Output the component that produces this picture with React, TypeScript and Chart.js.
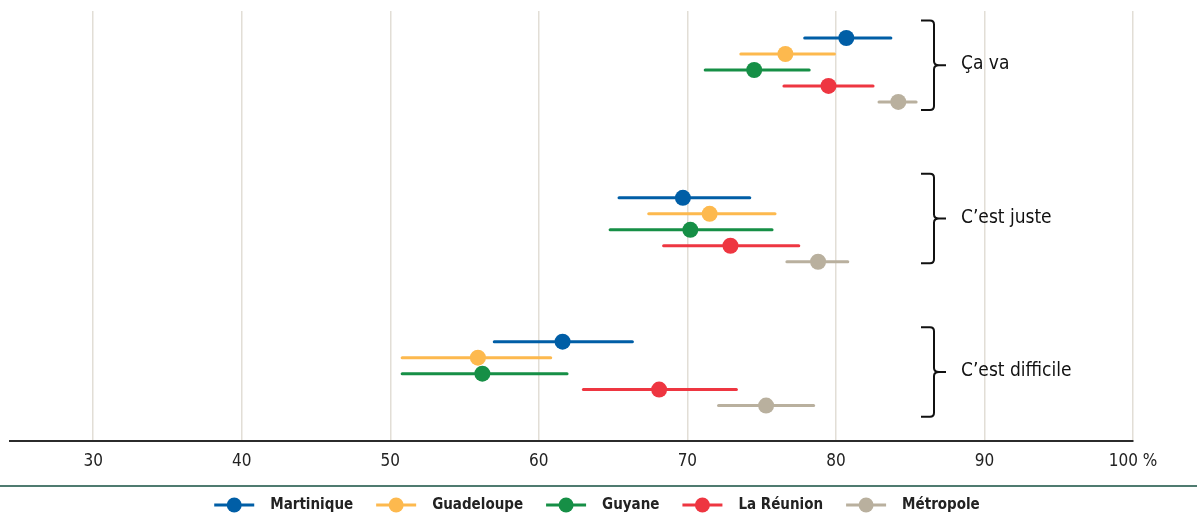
import React, { useEffect, useRef } from 'react';
import { Chart, registerables } from 'chart.js';

Chart.register(...registerables);

// ---------- data ----------
const seriesNames = ['Martinique', 'Guadeloupe', 'Guyane', 'La Réunion', 'Métropole'];
const seriesColors = ['#005ea6', '#fdb94e', '#168f46', '#ee3641', '#b9b09e'];
const groupLabels = ['Ça va', 'C’est juste', 'C’est difficile'];
const xTicks = [30, 40, 50, 60, 70, 80, 90, 100];

// estimates per group (Ça va, C’est juste, C’est difficile)
const martiniqueEst = [80.7, 69.7, 61.6];
const martiniqueLow = [77.9, 65.4, 57.0];
const martiniqueHigh = [83.7, 74.2, 66.3];

const guadeloupeEst = [76.6, 71.5, 55.9];
const guadeloupeLow = [73.6, 67.4, 50.8];
const guadeloupeHigh = [79.9, 75.9, 60.8];

const guyaneEst = [74.5, 70.2, 56.2];
const guyaneLow = [71.2, 64.8, 50.8];
const guyaneHigh = [78.2, 75.7, 61.9];

const reunionEst = [79.5, 72.9, 68.1];
const reunionLow = [76.5, 68.4, 63.0];
const reunionHigh = [82.5, 77.5, 73.3];

const metropoleEst = [84.2, 78.8, 75.3];
const metropoleLow = [82.9, 76.7, 72.1];
const metropoleHigh = [85.4, 80.8, 78.5];

const estimates = [martiniqueEst, guadeloupeEst, guyaneEst, reunionEst, metropoleEst];
const lows = [martiniqueLow, guadeloupeLow, guyaneLow, reunionLow, metropoleLow];
const highs = [martiniqueHigh, guadeloupeHigh, guyaneHigh, reunionHigh, metropoleHigh];

// ---------- layout ----------
const groupRowStart = [0, 10, 19];
const bracketCenterRow = [1.7, 11.3, 20.9];
const bracketHalfRows = 2.8;
const FONT = '"Liberation Sans Narrow", "DejaVu Sans Condensed", "Arial Narrow", sans-serif';

const errorBarPlugin = {
  id: 'errorBars',
  beforeDatasetsDraw(chart: any) {
    const { ctx, scales } = chart;
    const xs = scales.x;
    const ys = scales.y;
    ctx.save();
    ctx.lineCap = 'round';
    ctx.lineWidth = 3;
    estimates.forEach((_, s) => {
      ctx.strokeStyle = seriesColors[s];
      groupLabels.forEach((__, g) => {
        const y = ys.getPixelForValue(groupRowStart[g] + s);
        ctx.beginPath();
        ctx.moveTo(xs.getPixelForValue(lows[s][g]), y);
        ctx.lineTo(xs.getPixelForValue(highs[s][g]), y);
        ctx.stroke();
      });
    });
    ctx.restore();
  },
};

const decorPlugin = {
  id: 'decor',
  afterDraw(chart: any) {
    const { ctx, scales, width } = chart;
    const ys = scales.y;
    ctx.save();
    // brackets + group labels
    const bx = 934;
    ctx.strokeStyle = '#111';
    ctx.lineWidth = 2;
    ctx.fillStyle = '#111';
    ctx.font = `19px ${FONT}`;
    ctx.textBaseline = 'middle';
    ctx.textAlign = 'left';
    groupLabels.forEach((label, g) => {
      const mid = ys.getPixelForValue(bracketCenterRow[g]);
      const top = ys.getPixelForValue(bracketCenterRow[g] - bracketHalfRows);
      const bot = ys.getPixelForValue(bracketCenterRow[g] + bracketHalfRows);
      const r = 4;
      ctx.beginPath();
      ctx.moveTo(bx - 13, top);
      ctx.lineTo(bx - r, top);
      ctx.quadraticCurveTo(bx, top, bx, top + r);
      ctx.lineTo(bx, mid - r);
      ctx.quadraticCurveTo(bx, mid, bx + r + 1, mid);
      ctx.lineTo(bx + 12, mid);
      ctx.moveTo(bx + r + 1, mid);
      ctx.quadraticCurveTo(bx, mid, bx, mid + r);
      ctx.lineTo(bx, bot - r);
      ctx.quadraticCurveTo(bx, bot, bx - r, bot);
      ctx.lineTo(bx - 13, bot);
      ctx.stroke();
      ctx.fillText(label, 961, mid - 1);
    });

    // separator line
    const sepY = 486;
    ctx.strokeStyle = '#4f7b70';
    ctx.lineWidth = 2;
    ctx.beginPath();
    ctx.moveTo(0, sepY);
    ctx.lineTo(width - 5, sepY);
    ctx.stroke();

    // legend
    const legY = 505;
    const markerW = 40;
    const gapText = 16;
    const gapItem = 23;
    ctx.font = `bold 15px ${FONT}`;
    const widths = seriesNames.map((n) => ctx.measureText(n).width);
    const total = widths.reduce((a, w) => a + markerW + gapText + w, 0) + gapItem * (seriesNames.length - 1);
    let x = 597 - total / 2;
    seriesNames.forEach((name, i) => {
      ctx.strokeStyle = seriesColors[i];
      ctx.lineWidth = 3;
      ctx.beginPath();
      ctx.moveTo(x, legY);
      ctx.lineTo(x + markerW, legY);
      ctx.stroke();
      ctx.fillStyle = seriesColors[i];
      ctx.beginPath();
      ctx.arc(x + markerW / 2, legY, 7.5, 0, Math.PI * 2);
      ctx.fill();
      ctx.fillStyle = '#222';
      ctx.fillText(name, x + markerW + gapText, legY);
      x += markerW + gapText + widths[i] + gapItem;
    });
    ctx.restore();
  },
};

export default function App() {
  const ref = useRef<HTMLCanvasElement | null>(null);

  useEffect(() => {
    document.body.style.margin = '0';
    document.body.style.overflow = 'hidden';
    if (!ref.current) return;
    const datasets = seriesNames.map((name, s) => ({
      label: name,
      data: groupLabels.map((_, g) => ({ x: estimates[s][g], y: groupRowStart[g] + s })),
      backgroundColor: seriesColors[s],
      borderColor: seriesColors[s],
      pointRadius: 8,
      pointBorderWidth: 0,
      showLine: false,
    }));
    const chart = new Chart(ref.current, {
      type: 'scatter',
      data: { datasets },
      options: {
        animation: false,
        responsive: false,
        maintainAspectRatio: false,
        layout: { padding: { left: 10, right: 69, top: 11, bottom: 34 } },
        plugins: { legend: { display: false }, tooltip: { enabled: false } },
        scales: {
          x: {
            type: 'linear',
            min: 24.4,
            max: 100,
            afterBuildTicks: (scale: any) => {
              scale.ticks = xTicks.map((v) => ({ value: v }));
            },
            grid: { color: '#e2ded6', lineWidth: 1.5, drawTicks: false },
            border: { display: true, color: '#2b2b2b', width: 2 },
            ticks: {
              padding: 11,
              color: '#222',
              font: { family: FONT, size: 17 },
              callback: (v: any) => (v === 100 ? '100 %' : String(v)),
            },
          },
          y: {
            type: 'linear',
            display: false,
            reverse: true,
            min: -1.69,
            max: 25.19,
          },
        },
      },
      plugins: [errorBarPlugin, decorPlugin],
    });
    return () => chart.destroy();
  }, []);

  return <canvas ref={ref} width={1202} height={517} style={{ display: 'block' }} />;
}
